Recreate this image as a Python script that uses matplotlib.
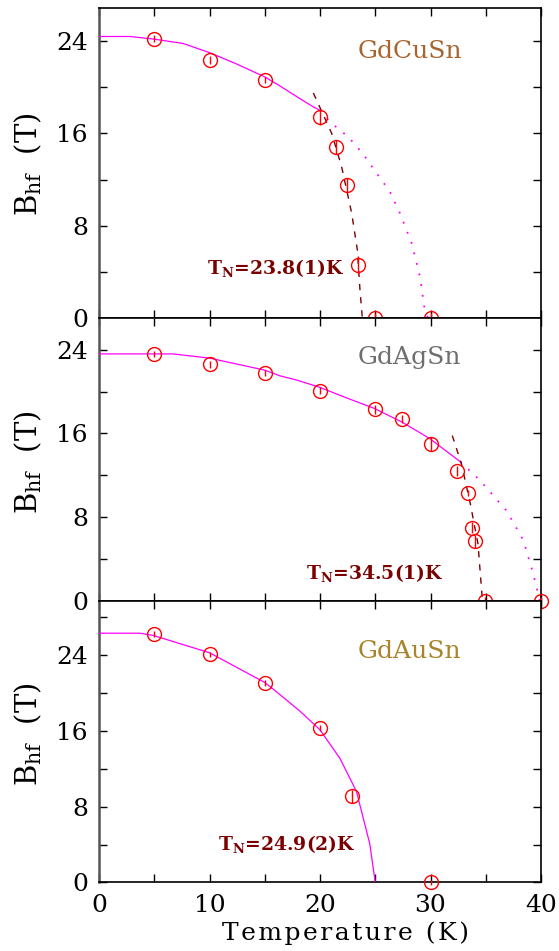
import matplotlib
matplotlib.use('Agg')
import matplotlib.pyplot as plt
from matplotlib.ticker import MultipleLocator

plt.rcParams['font.family'] = 'DejaVu Serif'
plt.rcParams['mathtext.fontset'] = 'dejavuserif'

# GdCuSn
cu_T = [5, 10, 15, 20, 21.45, 22.4, 23.4, 25, 30]
cu_B = [24.2, 22.4, 20.6, 17.4, 14.85, 11.5, 4.6, 0, 0]
cu_err = [0.3, 0.35, 0.25, 0.7, 0.6, 0.6, 0.8, 0.45, 0.45]
cu_fit_T = [0, 2.8, 5, 7.6, 10, 12.5, 15, 16.4, 18.2, 19.4, 20]
cu_fit_B = [24.4, 24.4, 24.17, 23.8, 23.0, 22.0, 20.9, 20.1, 19.0, 18.3, 18.0]
cu_dot_T = [20, 20.9, 22.56, 23.86, 25.13, 26.33, 27.24, 28.3, 29.05, 29.5, 29.8]
cu_dot_B = [18.0, 17.0, 15.7, 14.27, 12.54, 10.95, 9.07, 6.47, 3.58, 0.55, 0]
cu_dash_T = [19.4, 21.06, 21.96, 22.87, 23.38, 23.62, 23.83]
cu_dash_B = [19.5, 16.0, 13.1, 9.07, 5.9, 2.4, 0.0]

# GdAgSn
ag_T = [5, 10, 15, 20, 25, 27.4, 30, 32.4, 33.4, 33.8, 34.0, 34.9, 40]
ag_B = [23.6, 22.6, 21.8, 20.1, 18.3, 17.4, 15.0, 12.4, 10.3, 7.0, 5.7, 0, 0]
ag_err = [0.3, 0.3, 0.3, 0.3, 0.4, 0.4, 0.65, 0.5, 0.3, 0.55, 0.65, 0.4, 0.4]
ag_fit_T = [0, 6.7, 10, 15, 16.4, 17.9, 20, 22.4, 24.9, 27.4, 29.95, 32.7]
ag_fit_B = [23.6, 23.6, 23.2, 22.05, 21.5, 21.1, 20.4, 19.4, 18.4, 17.1, 15.5, 13.3]
ag_dot_T = [32.7, 34.5, 36.9, 38.4, 39.3, 39.6, 39.9]
ag_dot_B = [13.3, 11.5, 8.6, 5.8, 2.6, 1.3, 0]
ag_dash_T = [31.97, 32.8, 33.6, 34.3, 34.7]
ag_dash_B = [15.8, 13.1, 9.3, 5.45, 0]

# GdAuSn
au_T = [5, 10, 15, 20, 22.9, 30]
au_B = [26.25, 24.06, 21.07, 16.3, 9.07, 0]
au_err = [0.3, 0.3, 0.3, 0.3, 0.7, 0.3]
au_fit_T = [0, 3.7, 4.9, 10, 15, 16.4, 18.2, 20, 21.8, 23.3, 24.5, 25.0]
au_fit_B = [26.3, 26.3, 26.07, 24.24, 21.1, 19.8, 18.06, 16.1, 13.1, 9.6, 4.1, 0.0]

names = ['GdCuSn', 'GdAgSn', 'GdAuSn']
name_colors = ['#a8652f', '#6e6e6e', '#a8842a']
name_y = [23.1, 23.3, 24.4]
tn_labels = [r'$\mathbf{T_N}$=23.8(1)K', r'$\mathbf{T_N}$=34.5(1)K', r'$\mathbf{T_N}$=24.9(2)K']
tn_pos = [(16.0, 4.3), (25.0, 2.7), (17.0, 4.1)]
ylims = [26.87, 27.03, 29.7]

W, H = 559, 951
fig = plt.figure(figsize=(W / 100, H / 100), dpi=100)
x0, x1 = 99 / W, 541 / W
# (top px, bottom px) of each panel
panels = [(8, 318), (318, 601), (601, 882.4)]
axes = []
for top, bot in panels:
    ax = fig.add_axes([x0, 1 - bot / H, x1 - x0, (bot - top) / H])
    axes.append(ax)

sets = [
    (cu_T, cu_B, cu_err, cu_fit_T, cu_fit_B, cu_dot_T, cu_dot_B, cu_dash_T, cu_dash_B),
    (ag_T, ag_B, ag_err, ag_fit_T, ag_fit_B, ag_dot_T, ag_dot_B, ag_dash_T, ag_dash_B),
    (au_T, au_B, au_err, au_fit_T, au_fit_B, None, None, None, None),
]

for i, ax in enumerate(axes):
    T, B, err, fT, fB, dT, dB, sT, sB = sets[i]
    ax.plot(fT, fB, color='magenta', lw=0.9, zorder=3)
    if dT is not None:
        ax.plot(dT, dB, color='magenta', lw=1.3, ls=(0, (1, 5)), zorder=3)
        ax.plot(sT, sB, color='#7b0000', lw=1.0, ls=(0, (4.5, 5)), zorder=3)
    ax.errorbar(T, B, yerr=err, fmt='o', ms=10, mfc='none', mec='red', mew=1.0,
                ecolor='red', elinewidth=1.0, capsize=0, zorder=4, clip_on=False)
    ax.set_xlim(0, 40)
    ax.set_ylim(0, ylims[i])
    ax.xaxis.set_major_locator(MultipleLocator(10))
    ax.xaxis.set_minor_locator(MultipleLocator(5))
    ax.yaxis.set_major_locator(MultipleLocator(8))
    ax.yaxis.set_minor_locator(MultipleLocator(4))
    ax.tick_params(which='both', direction='in', top=True, right=True,
                   length=6, width=1.0, labelsize=18, pad=8)
    for s in ax.spines.values():
        s.set_linewidth(1.2)
    ax.spines['left'].set_color('#555555')
    ax.spines['left'].set_linewidth(1.8)
    if i < 2:
        ax.tick_params(labelbottom=False)
    ax.text(28.1, name_y[i], names[i], color=name_colors[i],
            fontsize=18, ha='center', va='center')
    ax.text(tn_pos[i][0], tn_pos[i][1], tn_labels[i], color='#7b0000', fontsize=13.5,
            fontweight='bold', ha='center', va='center')

# y labels, one per panel
label_y = [164, 462, 734]
for yy in label_y:
    fig.text(28 / W, 1 - yy / H, r'B$_{\rm hf}$  (T)', rotation=90, fontsize=21,
             ha='center', va='center')

xlab = '\u200a'.join('Temperature (K)')
fig.text(345 / W, 1 - 933 / H, xlab, fontsize=18, ha='center', va='center')

fig.savefig('out.png', dpi=100)
